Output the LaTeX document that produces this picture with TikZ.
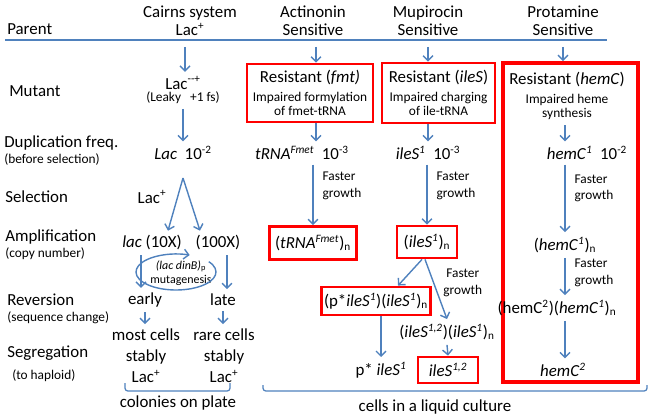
\documentclass[tikz,border=0pt]{standalone}
\usepackage{fontspec}
\setmainfont{Carlito}
\usepackage{xcolor}
\usepackage{tikz}
\usetikzlibrary{arrows.meta,positioning}

\definecolor{arrblue}{HTML}{4F81BD}
\newcommand{\subf}{\fontsize{9.5}{11}\selectfont}
\newcommand{\smf}{\fontsize{8.5}{10}\selectfont}

\begin{document}
\begin{tikzpicture}[x=0.25mm, y=0.25mm,
  every node/.style={font=\fontsize{12}{12.5}\selectfont},
  lbl/.style={anchor=west, inner sep=0pt},
  sub/.style={font=\subf},
  res/.style={draw=red, line width=2pt, inner sep=2pt, align=center},
  resbig/.style={draw=red, line width=2.8pt},
  arr/.style={-{Straight Barb[length=3.5pt,width=7pt]}, draw=arrblue, line width=1pt},
  fastlbl/.style={font=\fontsize{9.5}{12}\selectfont, align=left, right=3pt},
  brk/.style={draw=arrblue, line width=0.9pt, rounded corners=2pt},
  segtxt/.style={align=center, font=\fontsize{12}{15}\selectfont},
]
\useasboundingbox (0,0) rectangle (650,-419);

% column heads and the line under them
\node[align=center] (cairns) at (190,-21) {Cairns system\\Lac\textsuperscript{+}};
\node[align=center] (actin)  at (313,-21) {Actinonin\\Sensitive};
\node[align=center] (mupi)   at (428,-21) {Mupirocin\\Sensitive};
\node[align=center] (prota)  at (563,-21) {Protamine\\Sensitive};
\coordinate (hl) at (5,-40);
\coordinate (hr) at (607,-40);
\draw[arrblue, line width=1pt] (hl) -- (hr);

% row labels
\node[lbl]      (parent) at (7,-29)   {Parent};
\node[lbl]      (mutant) at (9,-91)   {Mutant};
\node[lbl]      (dup)    at (4,-143)  {Duplication freq.};
\node[lbl, sub] (dups)   at (4,-160)  {(before selection)};
\node[lbl]      (sel)    at (5,-197)  {Selection};
\node[lbl]      (amp)    at (5,-237)  {Amplification};
\node[lbl, sub] (amps)   at (5,-254)  {(copy number)};
\node[lbl]      (rev)    at (7,-300)  {Reversion};
\node[lbl, sub] (revs)   at (7,-318)  {(sequence change)};
\node[lbl]      (segl)   at (7,-353)  {Segregation};
\node[lbl, sub] (segs)   at (12,-376) {(to haploid)};

% Cairns system
\coordinate (c1top) at (185,-47);
\node      (lacm)   at (183,-83)  {Lac\textsuperscript{-{}-+}};
\node[sub] (leaky)  at (183,-98)  {(Leaky\ \ \ +1 fs)};
\node      (lacdup) at (183,-153) {\textit{Lac}\ \ 10\textsuperscript{-2}};
\node      (lacsel) at (152,-197) {Lac\textsuperscript{+}};
\coordinate (split) at (183,-178);
\node      (lac10)  at (152,-243) {\textit{lac} (10X)};
\node      (lac100) at (218,-243) {(100X)};
\coordinate (ellc) at (176,-272);
\node[font=\smf, align=center] (mutag) at (181,-273) {\textit{(lac dinB)}\textsubscript{p}\\mutagenesis};
\node      (early)  at (145,-300) {early};
\node      (late)   at (223,-300) {late};
\node[segtxt] (seg1) at (146,-356) {most cells\\stably\\Lac\textsuperscript{+}};
\node[segtxt] (seg2) at (224,-356) {rare cells\\stably\\Lac\textsuperscript{+}};
\node      (plate)  at (178,-403) {colonies on plate};

\draw[arr] (c1top) -- (c1top |- lacm.north);
\draw[arr] (leaky.south) -- (lacdup.north);
\draw[arr] (split) -- ([xshift=4mm]lac10.north);
\draw[arr] (split) -- ([xshift=-4.5mm]lac100.north);
\draw[arr] ([xshift=-2.75mm]lac10.south) -- ([xshift=-2.75mm]lac10.south |- early.north);
\draw[arr] ([xshift=2.25mm]lac100.south) -- ([xshift=2.25mm]lac100.south |- late.north);
\draw[arr] ([shift={(35:40 and 18)}]ellc) arc[start angle=35, end angle=-290, x radius=40, y radius=18];
\draw[arr] (early.south) -- (early.south |- seg1.north);
\draw[arr] (late.south) -- (late.south |- seg2.north);
\draw[brk] (125,-383) -- (125,-391) -- (230,-391) -- (230,-383);

% Actinonin
\coordinate (c2top) at (316,-47);
\node[res, minimum width=31.5mm, minimum height=14.5mm] (fmt) at (310,-93)
  {Resistant (\textit{fmt)}\\[1pt]{\subf Impaired formylation}\\[-2pt]{\subf of fmet-tRNA}};
\node (trna) at (302,-153) {\textit{tRNA}\textsuperscript{\textit{Fmet}}\ \ 10\textsuperscript{-3}};
\node[res, minimum width=21.75mm, minimum height=8.25mm] (trnan) at (313,-243)
  {(\textit{tRNA}\textsuperscript{\textit{Fmet}})\textsubscript{n}};

\draw[arr] (c2top) -- (c2top |- fmt.north);
\draw[arr] (fmt.south -| c2top) -- (c2top |- trna.north);
\draw[arr] (trnan.north |- trna.south) -- (trnan.north) node[fastlbl, pos=0.35] {Faster\\growth};

% Mupirocin
\coordinate (c3top) at (428,-47);
\node[res, minimum width=28.25mm, minimum height=15mm] (iles) at (438.5,-93)
  {Resistant (\textit{ileS})\\[1pt]{\subf Impaired charging}\\[-2pt]{\subf of ile-tRNA}};
\node (ile1) at (428,-153) {\textit{ileS}\textsuperscript{\textit{1}}\ \ 10\textsuperscript{-3}};
\node[res, minimum width=15mm, minimum height=8mm] (ilen) at (427,-242)
  {(\textit{ileS}\textsuperscript{\textit{1}})\textsubscript{n}};
\node[res, minimum width=27mm, minimum height=7mm] (pile) at (376,-301)
  {(p*\textit{ileS}\textsuperscript{\textit{1}})(\textit{ileS}\textsuperscript{\textit{1}})\textsubscript{n}};
\node (ile12n) at (447,-332) {(\textit{ileS}\textsuperscript{\textit{1,2}})(\textit{ileS}\textsuperscript{\textit{1}})\textsubscript{n}};
\node (pstar) at (381,-370) {p* \textit{ileS}\textsuperscript{\textit{1}}};
\node[res, minimum width=15mm, minimum height=6.5mm] (ile12) at (448,-370)
  {\textit{ileS}\textsuperscript{\textit{1,2}}};

\draw[arr] (c3top) -- (c3top |- iles.north);
\draw[arr] (iles.south -| ile1.north) -- (ile1.north);
\draw[arr] (ilen.north |- ile1.south) -- (ilen.north) node[fastlbl, pos=0.35] {Faster\\growth};
\draw[arr] ([xshift=-1.25mm]ilen.south) -- ([xshift=5.5mm]pile.north);
\draw[arr] ([xshift=-0.5mm]ilen.south) -- (ile12n.north)
  node[pos=0.4, right=3pt, font=\fontsize{9.5}{12}\selectfont, align=center] {Faster\\growth};
\draw[arr] (pile.south -| pstar.north) -- (pstar.north);
\draw[arr] (ile12n.south) -- (ile12.north);

% Protamine
\coordinate (c4top) at (563,-47);
\node[resbig, minimum width=33.75mm, minimum height=79.75mm] (hembox) at (570.5,-222.5) {};
\node[align=center] (hemres) at (567,-96)
  {Resistant (\textit{hemC})\\[1pt]{\subf Impaired heme}\\[-2pt]{\subf synthesis}};
\node (hem1)  at (587,-153) {\textit{hemC}\textsuperscript{\textit{1}}\ \ 10\textsuperscript{-2}};
\node (hem1n) at (565,-245) {(\textit{hemC}\textsuperscript{\textit{1}})\textsubscript{n}};
\node (hem21) at (557,-308) {(hemC\textsuperscript{2})(\textit{hemC}\textsuperscript{\textit{1}})\textsubscript{n}};
\node (hem2)  at (563,-370) {\textit{hemC}\textsuperscript{\textit{2}}};

\draw[arr] (c4top) -- (c4top |- hembox.north);
\draw[arr] (hemres.south -| hem1n.north) -- (hem1n.north |- hem1.north);
\draw[arr] (hem1n.north |- hem1.south) -- (hem1n.north) node[fastlbl, pos=0.35] {Faster\\growth};
\draw[arr] (hem1n.south) -- (hem1n.south |- hem21.north) node[fastlbl, pos=0.4] {Faster\\growth};
\draw[arr] (hem1n.south |- hem21.south) -- (hem1n.south |- hem2.north);

% liquid culture bracket
\draw[brk] (263,-385) -- (263,-391) -- (647,-391) -- (647,-385);
\node (liquid) at (435,-407) {cells in a liquid culture};
\end{tikzpicture}
\end{document}
